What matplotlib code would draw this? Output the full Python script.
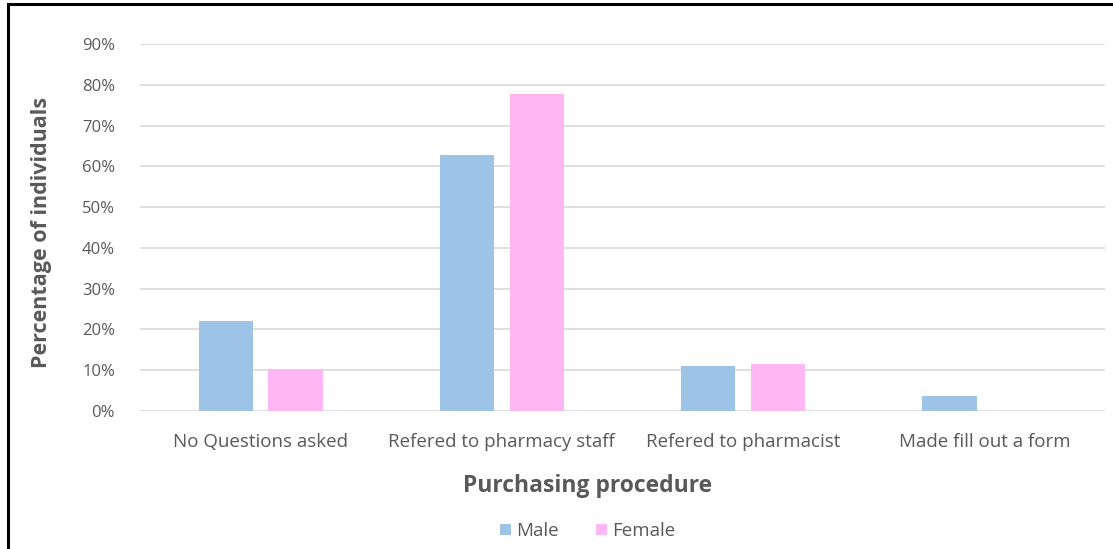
import matplotlib
matplotlib.use("Agg")
import matplotlib.pyplot as plt
import numpy as np
from matplotlib.patches import Rectangle
from matplotlib.ticker import PercentFormatter

categories = ["No Questions asked", "Refered to pharmacy staff",
              "Refered to pharmacist", "Made fill out a form"]
male = [22.0, 62.8, 11.0, 3.7]
female = [10.2, 77.7, 11.5, 0.0]
y_ticks = [0, 10, 20, 30, 40, 50, 60, 70, 80, 90]

plt.rcParams["font.family"] = ["Open Sans", "DejaVu Sans"]
text_grey = "#595959"
male_c = "#9DC3E6"
female_c = "#FFB7F3"

W, H = 1113, 549
fig = plt.figure(figsize=(W / 100, H / 100), dpi=100)
ax = fig.add_axes([140 / W, 1 - 411 / H, (1105 - 140) / W, (411 - 44) / H])

x = np.arange(len(categories))
bw = 0.225
off = 0.145
ax.bar(x - off, male, bw, color=male_c, label="Male", zorder=3)
ax.bar(x + off, female, bw, color=female_c, label="Female", zorder=3)

ax.set_xlim(-0.5, len(categories) - 0.5)
ax.set_ylim(0, 90)
ax.set_yticks(y_ticks)
ax.yaxis.set_major_formatter(PercentFormatter(decimals=0))
ax.set_xticks(x)
ax.set_xticklabels(categories)
ax.grid(axis="y", color="#d9d9d9", linewidth=1.2, zorder=0)
ax.tick_params(axis="both", length=0, labelcolor=text_grey)
ax.tick_params(axis="y", pad=18, labelsize=12)
ax.tick_params(axis="x", pad=16, labelsize=13.5)
for s in ax.spines.values():
    s.set_visible(False)

fig.text(588 / W, 1 - 486 / H, "Purchasing procedure", ha="center", va="center",
         fontsize=16.5, fontweight="bold", color=text_grey)
fig.text(42 / W, 1 - 232 / H, "Percentage of individuals", ha="center", va="center",
         rotation=90, fontsize=15.5, fontweight="bold", color=text_grey)

leg = fig.legend(loc="center", bbox_to_anchor=(588 / W, 1 - 531 / H), ncol=2,
                 frameon=False, fontsize=13.5, handlelength=0.55, handleheight=0.55,
                 handletextpad=0.3, columnspacing=2.0)
for t in leg.get_texts():
    t.set_color(text_grey)

# outer frame (left and top edges visible)
fig.patches.append(Rectangle((7.5 / W, -0.1), 1.2, 1.1 - 4.5 / H,
                             transform=fig.transFigure, fill=False,
                             edgecolor="black", linewidth=2.2))

fig.savefig("out.png", dpi=100)
